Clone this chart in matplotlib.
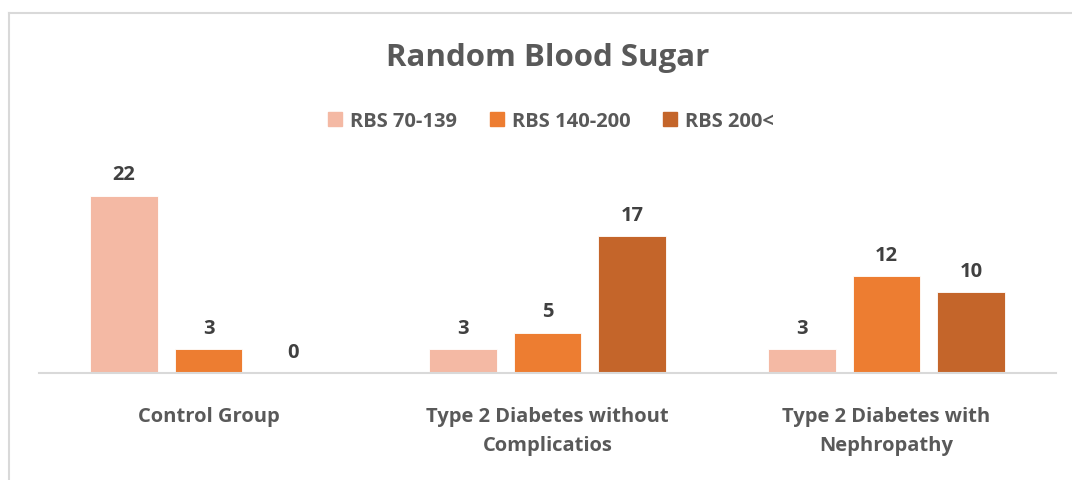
import numpy as np
import matplotlib.pyplot as plt
from matplotlib.lines import Line2D

categories = ["Control Group", "Type 2 Diabetes without\nComplicatios", "Type 2 Diabetes with\nNephropathy"]
series_names = ["RBS 70-139", "RBS 140-200", "RBS 200<"]
rbs_low = [22, 3, 3]
rbs_mid = [3, 5, 12]
rbs_high = [0, 17, 10]
colors = ["#F4B9A4", "#ED7D31", "#C4652A"]

plt.rcParams['font.family'] = ['Open Sans', 'DejaVu Sans']

W, H = 1072, 481
fig = plt.figure(figsize=(W / 100, H / 100), dpi=100)
ax = fig.add_axes([39 / W, (H - 374) / H, (1056 - 39) / W, (374 - 150) / H])

x = np.arange(len(categories))
offsets = [-0.25, 0, 0.25]
for vals, off, c, name in zip([rbs_low, rbs_mid, rbs_high], offsets, colors, series_names):
    bars = ax.bar(x + off, vals, width=0.2, color=c, label=name, edgecolor="white", linewidth=0.6)
    for b, v in zip(bars, vals):
        ax.text(b.get_x() + b.get_width() / 2, v + 1.4, str(v), ha="center", va="bottom",
                fontsize=14.5, fontweight="bold", color="#404040")

ax.set_xlim(-0.5, 2.5)
ax.set_ylim(0, 27.8)
ax.set_yticks([])
ax.set_xticks(x)
ax.set_xticklabels(categories, fontsize=14.5, fontweight="bold", color="#595959", linespacing=1.6)
ax.tick_params(axis="x", length=0, pad=24)
for s in ["top", "right", "left"]:
    ax.spines[s].set_visible(False)
ax.spines["bottom"].set_color("#D9D9D9")
ax.spines["bottom"].set_linewidth(1.5)

fig.text(548 / W, 1 - 58 / H, "Random Blood Sugar", ha="center", va="center",
         fontsize=22.5, fontweight="bold", color="#595959")

handles = [plt.Rectangle((0, 0), 1, 1, color=c) for c in colors]
fig.legend(handles, series_names, loc="center", bbox_to_anchor=(551 / W, 1 - 122 / H), ncol=3,
           frameon=False, handlelength=0.7, handleheight=0.7, handletextpad=0.4, columnspacing=1.6,
           prop={"size": 14.5, "weight": "bold"}, labelcolor="#595959")

# chart border
fig.add_artist(Line2D([9 / W, 9 / W], [0, 1 - 14 / H], color="#D9D9D9", lw=1.5))
fig.add_artist(Line2D([9 / W, 1], [1 - 14 / H, 1 - 14 / H], color="#D9D9D9", lw=1.5))

fig.savefig("out.png", dpi=100)
